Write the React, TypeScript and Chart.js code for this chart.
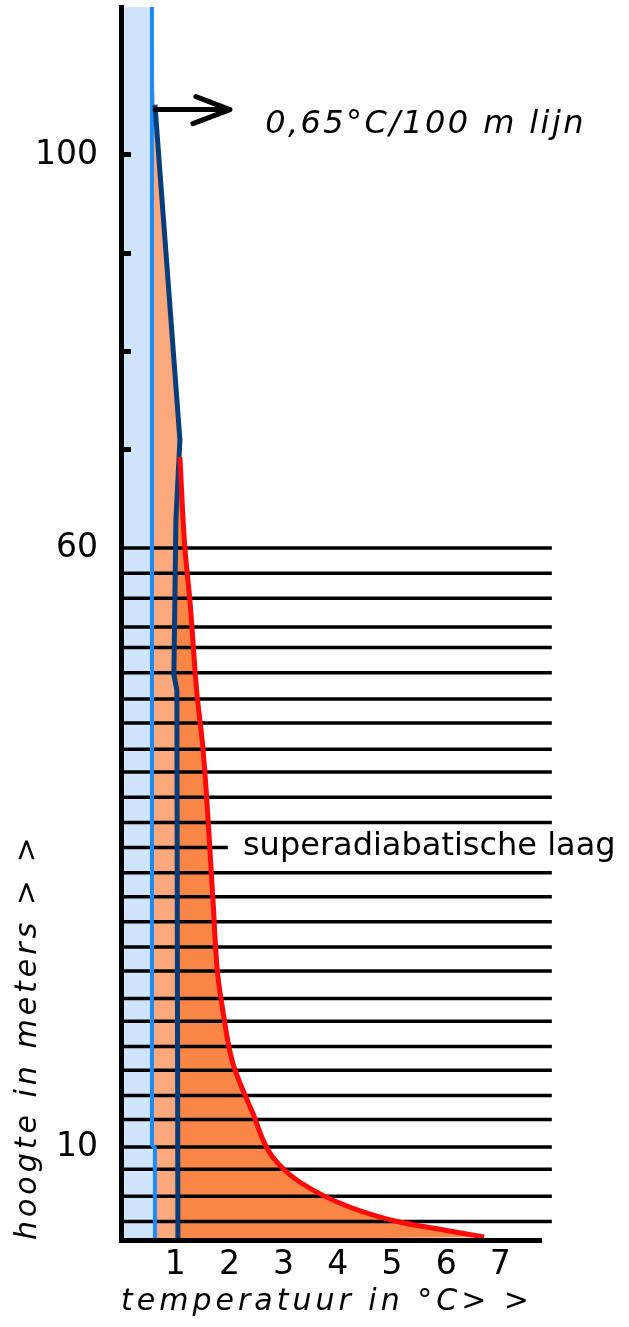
import { useEffect, useRef } from 'react';
import { Chart, registerables, LinearScale } from 'chart.js';

Chart.register(...registerables);

// ---------- axes ----------
const X_MAX = 7.75;
const X_TICKS = [1, 2, 3, 4, 5, 6, 7];
const Y_MAX = 115;
const Y_TICKS = [10, 60, 70, 80, 90, 100];
const Y_LABELLED = [10, 60, 100];
const Y_NOTCHED = [70, 80, 90, 100];
// the drawn height axis is not evenly spaced: metres -> fraction of axis height
const Y_WARP_VALUES = [0, 10, 60, 100, 115];
const Y_WARP_FRACTIONS = [0, 0.0754, 0.5612, 0.88, 1];

// ---------- series (temperature °C, height m) ----------
// dry adiabatic line (light blue)
const ADIABAT_X = [0.626, 0.626, 0.571, 0.571];
const ADIABAT_Y = [0, 9.9, 10.2, 115];
// 0,65 °C / 100 m line (dark blue)
const LAPSE_X = [1.05, 1.031, 0.976, 1.013, 1.087, 0.626];
const LAPSE_Y = [0, 48.15, 49.4, 62.85, 70.99, 105.09];
// temperature profile (red)
const PROFILE_X = [6.7, 6.06, 5.138, 4.217, 3.297, 2.799, 2.431, 2.063, 1.878, 1.786, 1.694, 1.51, 1.4, 1.271, 1.179, 1.087];
const PROFILE_Y = [0.32, 0.97, 1.94, 3.55, 6.24, 8.92, 12.84, 17.01, 21.44, 24.37, 30.87, 43.39, 47.9, 55.66, 60, 69.26];
// horizontal layer lines (m)
const LAYER_HEIGHTS = [60, 57.9, 55.8, 53.4, 51.7, 49.6, 47.4, 45.4, 43.2, 41.3, 39.2, 37.1, 35.0, 32.9, 30.9, 28.8, 26.7, 24.7, 22.4, 20.5, 18.4, 16.4, 14.3, 12.3, 10, 7.6, 4.7, 2.0];
const LAYER_X_END = 7.95;
const LEADER_HEIGHT = 35.0;
const LEADER_X_END = 1.97;

// ---------- annotations ----------
const ARROW_Y = 104.6;
const ARROW_X_FROM = 0.63;
const ARROW_X_TO = 2.01;
const LAPSE_LABEL = '0,65°C/100 m lijn';
const LAPSE_LABEL_X = 2.66;
const LAPSE_LABEL_Y = 102.24;
const LAYER_LABEL = 'superadiabatische laag';
const LAYER_LABEL_X = 2.25;
const LAYER_LABEL_Y = 34.37;

const FONT = '"DejaVu Sans", "Liberation Sans", sans-serif';

function warp(v: number): number {
  const vs = Y_WARP_VALUES, fs = Y_WARP_FRACTIONS;
  let i = 0;
  while (i < vs.length - 2 && v > vs[i + 1]) i++;
  return fs[i] + ((v - vs[i]) / (vs[i + 1] - vs[i])) * (fs[i + 1] - fs[i]);
}
function unwarp(f: number): number {
  const vs = Y_WARP_VALUES, fs = Y_WARP_FRACTIONS;
  let i = 0;
  while (i < fs.length - 2 && f > fs[i + 1]) i++;
  return vs[i] + ((f - fs[i]) / (fs[i + 1] - fs[i])) * (vs[i + 1] - vs[i]);
}

class WarpedLinearScale extends LinearScale {
  static id = 'warpedLinear';
  static defaults = LinearScale.defaults;
  getPixelForValue(value: any) {
    if (value === null || value === undefined || isNaN(value)) return NaN;
    return this.getPixelForDecimal(warp(value));
  }
  getValueForPixel(pixel: number) {
    return unwarp(this.getDecimalForPixel(pixel));
  }
}
Chart.register(WarpedLinearScale as any);

const zip = (xs: number[], ys: number[]) => xs.map((x, i) => ({ x, y: ys[i] }));

function layerData() {
  const out: any[] = [];
  LAYER_HEIGHTS.forEach((h) => {
    out.push({ x: 0, y: h });
    out.push({ x: h === LEADER_HEIGHT ? LEADER_X_END : LAYER_X_END, y: h });
    out.push({ x: null, y: null });
  });
  return out;
}

const annotationPlugin = {
  id: 'annotations',
  afterDatasetsDraw(chart: any) {
    chart.ctx.letterSpacing = '4px';
  },
  afterDraw(chart: any) {
    const { ctx } = chart;
    const x = chart.scales.x;
    const y = chart.scales.y;
    ctx.save();
    ctx.letterSpacing = '0px';
    const ay = y.getPixelForValue(ARROW_Y);
    const ax0 = x.getPixelForValue(ARROW_X_FROM);
    const ax1 = x.getPixelForValue(ARROW_X_TO);
    ctx.strokeStyle = '#000';
    ctx.lineWidth = 5;
    ctx.lineCap = 'round';
    ctx.lineJoin = 'round';
    ctx.beginPath();
    ctx.moveTo(ax0, ay);
    ctx.lineTo(ax1, ay);
    ctx.moveTo(ax1 - 34, ay - 13);
    ctx.lineTo(ax1, ay);
    ctx.lineTo(ax1 - 37, ay + 14);
    ctx.stroke();

    ctx.fillStyle = '#000';
    ctx.textAlign = 'left';
    ctx.textBaseline = 'alphabetic';
    ctx.font = `italic 32px ${FONT}`;
    ctx.letterSpacing = '2.4px';
    ctx.fillText(LAPSE_LABEL, x.getPixelForValue(LAPSE_LABEL_X), y.getPixelForValue(LAPSE_LABEL_Y));
    ctx.font = `32px ${FONT}`;
    ctx.letterSpacing = '0px';
    ctx.fillText(LAYER_LABEL, x.getPixelForValue(LAYER_LABEL_X), y.getPixelForValue(LAYER_LABEL_Y));
    ctx.restore();
    ctx.letterSpacing = '0px';
  },
};

export default function App() {
  const ref = useRef<HTMLCanvasElement>(null);
  useEffect(() => {
    if (!ref.current) return;
    const chart = new Chart(ref.current, {
      type: 'line',
      data: {
        datasets: [
          {
            data: zip(ADIABAT_X, ADIABAT_Y),
            borderColor: '#1a8cff',
            borderWidth: 4,
            backgroundColor: '#cfe5fb',
            fill: { value: 0 },
            order: 2,
            tension: 0,
          },
          {
            data: zip(LAPSE_X, LAPSE_Y),
            borderColor: '#073d7a',
            borderWidth: 5,
            backgroundColor: '#fba87d',
            fill: { target: 0 },
            order: 1,
            tension: 0,
          },
          {
            data: zip(PROFILE_X, PROFILE_Y),
            borderColor: '#ff0a0a',
            borderWidth: 5,
            backgroundColor: '#f98547',
            fill: { target: 1 },
            order: 0,
            cubicInterpolationMode: 'monotone',
          },
          {
            data: layerData(),
            borderColor: '#000',
            borderWidth: 3.5,
            fill: false,
            order: 3,
            spanGaps: false,
            clip: false,
          },
        ],
      } as any,
      options: {
        responsive: false,
        animation: false,
        events: [],
        indexAxis: 'y',
        layout: { padding: { left: 0, top: 7, right: 88, bottom: 0 }, autoPadding: false },
        elements: { point: { radius: 0 } },
        plugins: {
          legend: { display: false },
          tooltip: { enabled: false },
          filler: { propagate: false, drawTime: 'beforeDatasetsDraw' },
        },
        scales: {
          x: {
            type: 'linear',
            position: 'bottom',
            min: 0,
            max: X_MAX,
            afterBuildTicks: (s: any) => {
              s.ticks = X_TICKS.map((value) => ({ value }));
            },
            afterFit: (s: any) => {
              s.height = 87;
              s.paddingLeft = 0;
              s.paddingRight = 0;
            },
            grid: { display: false, drawOnChartArea: false, drawTicks: false, z: 1 },
            border: { display: true, color: '#000', width: 5, z: 1 },
            ticks: {
              autoSkip: false,
              maxRotation: 0,
              padding: 6,
              color: '#000',
              font: { family: FONT, size: 33 },
            },
            title: {
              display: true,
              text: 'temperatuur in °C> >',
              align: 'start',
              color: '#000',
              padding: { top: 0, bottom: 7 },
              font: { family: FONT, size: 30, style: 'italic' },
            },
          },
          y: {
            type: 'warpedLinear',
            position: 'left',
            min: 0,
            max: Y_MAX,
            afterBuildTicks: (s: any) => {
              s.ticks = Y_TICKS.map((value) => ({ value }));
            },
            afterFit: (s: any) => {
              s.width = 121;
              s.paddingTop = 0;
              s.paddingBottom = 0;
            },
            grid: {
              display: true,
              drawOnChartArea: false,
              drawTicks: true,
              tickLength: -10,
              tickWidth: 5,
              tickColor: (c: any) => (c.tick && Y_NOTCHED.includes(c.tick.value) ? '#000' : 'rgba(0,0,0,0)'),
              z: 1,
            },
            border: { display: true, color: '#000', width: 5, z: 1 },
            ticks: {
              autoSkip: false,
              padding: 33,
              color: '#000',
              font: { family: FONT, size: 33 },
              callback: (v: any) => (Y_LABELLED.includes(Number(v)) ? String(v) : ''),
            },
            title: {
              display: true,
              text: 'hoogte in meters > >',
              align: 'start',
              color: '#000',
              padding: { top: 10, bottom: 0 },
              font: { family: FONT, size: 30, style: 'italic' },
            },
          },
        } as any,
      } as any,
      plugins: [annotationPlugin],
    } as any);
    return () => chart.destroy();
  }, []);

  return (
    <div style={{ position: 'absolute', left: 0, top: 0, width: 629, height: 1327, background: '#fff' }}>
      <canvas ref={ref} width={629} height={1327} style={{ display: 'block', width: 629, height: 1327 }} />
    </div>
  );
}
